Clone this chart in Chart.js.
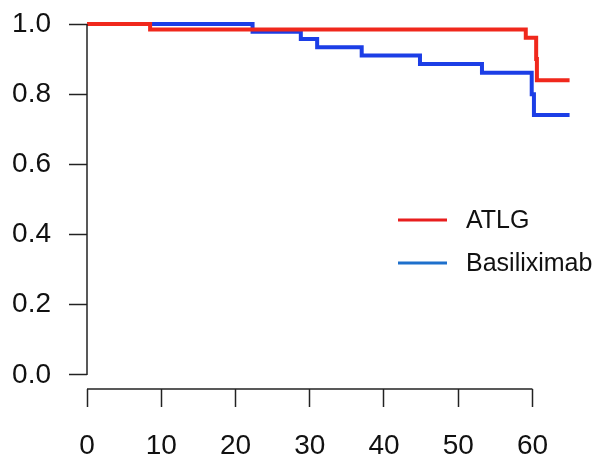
<!DOCTYPE html>
<html>
<head>
<meta charset="utf-8">
<script src="https://cdn.jsdelivr.net/npm/chart.js@4/dist/chart.umd.min.js"></script>
<style>
  html, body { margin: 0; padding: 0; background: #fff; }
  #wrap { width: 595px; height: 454px; position: relative; }
</style>
</head>
<body>
<div id="wrap"><canvas id="c" width="595" height="454"></canvas></div>
<script>
// ---- data ----
const seriesNames = ["ATLG", "Basiliximab"];
const atlgTime = [0, 8.5, 59.1, 60.5, 60.6, 65];
const atlgSurv = [1.0, 0.984, 0.961, 0.90, 0.840, 0.840];
const basTime  = [0, 22.3, 28.8, 31.0, 37.0, 44.85, 53.2, 59.9, 60.2, 65];
const basSurv  = [1.0, 0.978, 0.957, 0.934, 0.910, 0.886, 0.861, 0.80, 0.741, 0.741];
const xTicks = [0, 10, 20, 30, 40, 50, 60];
const yTicks = [0.0, 0.2, 0.4, 0.6, 0.8, 1.0];

const lineColors = ["rgb(240,40,28)", "rgb(28,62,230)"];
const legendColors = ["rgb(232,30,30)", "rgb(30,112,204)"];
const FONT = "'Liberation Sans', Arial, Helvetica, sans-serif";

function pts(t, s) { return t.map((v, i) => ({ x: v, y: s[i] })); }

const axisPlugin = {
  id: 'rAxes',
  afterDraw(chart) {
    const ctx = chart.ctx;
    const xs = chart.scales.x, ys = chart.scales.y;
    ctx.save();
    ctx.strokeStyle = '#222';
    ctx.lineWidth = 1.5;
    const xl = chart.chartArea.left;
    ctx.beginPath();
    ctx.moveTo(xl, ys.getPixelForValue(yTicks[0]));
    ctx.lineTo(xl, ys.getPixelForValue(yTicks[yTicks.length - 1]));
    ctx.stroke();
    const yb = chart.chartArea.bottom;
    ctx.beginPath();
    ctx.moveTo(xs.getPixelForValue(xTicks[0]), yb);
    ctx.lineTo(xs.getPixelForValue(xTicks[xTicks.length - 1]), yb);
    ctx.stroke();
    // legend
    const items = chart.data.datasets;
    const lx0 = 398, lx1 = 447, tx = 466;
    const ly = [220, 263];
    ctx.font = "25px " + FONT;
    ctx.textBaseline = 'middle';
    ctx.textAlign = 'left';
    items.forEach((d, i) => {
      ctx.strokeStyle = legendColors[i];
      ctx.lineWidth = 3;
      ctx.beginPath();
      ctx.moveTo(lx0, ly[i]);
      ctx.lineTo(lx1, ly[i]);
      ctx.stroke();
      ctx.fillStyle = '#111';
      ctx.fillText(d.label, tx, ly[i] + 1);
    });
    ctx.restore();
  }
};

new Chart(document.getElementById('c'), {
  type: 'line',
  data: {
    datasets: [
      { label: seriesNames[0], data: pts(atlgTime, atlgSurv), borderColor: lineColors[0],
        borderWidth: 4, stepped: true, pointRadius: 0, fill: false, clip: false },
      { label: seriesNames[1], data: pts(basTime, basSurv), borderColor: lineColors[1],
        borderWidth: 4, stepped: true, pointRadius: 0, fill: false, clip: false }
    ]
  },
  options: {
    responsive: false,
    animation: false,
    layout: { padding: { left: 0, right: 18, top: 24, bottom: 0 } },
    plugins: { legend: { display: false }, tooltip: { enabled: false } },
    scales: {
      x: {
        type: 'linear', min: 0, max: 66,
        afterBuildTicks: s => { s.ticks = xTicks.map(v => ({ value: v })); },
        afterFit: s => { s.height = 65; s.paddingLeft = 0; s.paddingRight = 0; },
        grid: { drawOnChartArea: false, drawTicks: true, tickLength: 18, tickColor: '#222', tickWidth: 1.5 },
        border: { display: false },
        ticks: { color: '#111', font: { size: 28, family: FONT }, padding: 22, maxRotation: 0,
                 callback: v => String(v) }
      },
      y: {
        type: 'linear', min: -0.04, max: 1.0,
        afterBuildTicks: s => { s.ticks = yTicks.map(v => ({ value: v })); },
        afterFit: s => { s.width = 87; s.paddingTop = 0; s.paddingBottom = 0; },
        grid: { drawOnChartArea: false, drawTicks: true, tickLength: 18, tickColor: '#222', tickWidth: 1.5 },
        border: { display: false },
        ticks: { color: '#111', font: { size: 28, family: FONT }, padding: 18,
                 callback: v => Number(v).toFixed(1) }
      }
    }
  },
  plugins: [axisPlugin]
});
</script>
</body>
</html>
